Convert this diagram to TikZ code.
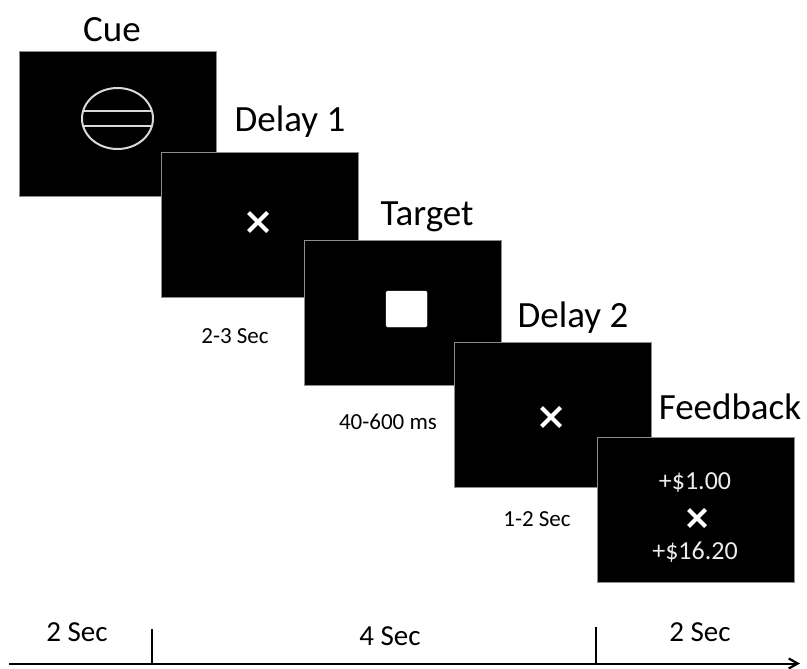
\documentclass[tikz,border=0pt]{standalone}
\usepackage{fontspec}
\setmainfont{Carlito}
\usetikzlibrary{arrows.meta}
\tikzset{
  screen/.style={draw=black!45, fill=black, line width=0.8pt, minimum width=197pt, minimum height=145pt, anchor=north west, inner sep=0pt},
  phase/.style={inner sep=0pt, font=\fontsize{37}{40}\selectfont},
  dur/.style={inner sep=0pt, font=\fontsize{23}{26}\selectfont},
  span/.style={inner sep=0pt, font=\fontsize{29}{32}\selectfont},
  prize/.style={inner sep=0pt, text=white!92!black, font=\fontsize{26}{29}\selectfont},
  fixmark/.style={white, line width=4pt},
  cueline/.style={white!85!black, line width=2pt},
}
\begin{document}
\begin{tikzpicture}[x=1pt,y=1pt,yscale=-1,xscale=1]
	\useasboundingbox (0,0) rectangle (807,669);
	% screens
	\node[screen] (cue) at (19,51) {};
	\draw [cueline] (117.5,118.5) ellipse [x radius=35.5, y radius=30.5];
	\draw [cueline] (83.3,111.5) -- (151.7,111.5) ;
	\draw [cueline] (83.6,126.5) -- (151.4,126.5) ;
	\node[screen] (delay1) at (161,152) {};
	\draw [fixmark] (248.5,212.5) -- (267.5,231.5) (248.5,231.5) -- (267.5,212.5) ;
	\node[screen] (target) at (304,240) {};
	\draw [white, fill=white, rounded corners=1.5pt] (386,291) rectangle (427,327) ;
	\node[screen] (delay2) at (454,342) {};
	\draw [fixmark] (541.5,407.5) -- (560.5,426.5) (541.5,426.5) -- (560.5,407.5) ;
	\node[screen] (feedback) at (597,437) {};
	\node[prize] (gain) at (695,483) {+\$1.00};
	\draw [fixmark] (688.5,509.5) -- (705.5,526.5) (688.5,526.5) -- (705.5,509.5) ;
	\node[prize] (total) at (695,552) {+\$16.20};
	% titles
	\node[phase] (cuelbl) at (112,30) {Cue};
	\node[phase] (d1lbl) at (290,122) {Delay 1};
	\node[phase] (tglbl) at (427,217) {Target};
	\node[phase] (d2lbl) at (573,318) {Delay 2};
	\node[phase] (fblbl) at (730,407) {Feedback};
	% durations
	\node[dur] (d1dur) at (235,336) {2-3 Sec};
	\node[dur] (tgdur) at (388,422) {40-600 ms};
	\node[dur] (d2dur) at (537,519) {1-2 Sec};
	% time line
	\coordinate (t0) at (9,663.5);
	\coordinate (t1) at (152,663.5);
	\coordinate (t1top) at (152,629);
	\coordinate (t2) at (596,663.5);
	\coordinate (t2top) at (596,627);
	\coordinate (tend) at (800,663.5);
	\draw [line width=2pt, -{Straight Barb[length=9pt, width=10pt, line width=2.2pt]}] (t0) -- (tend) ;
	\draw [line width=2pt] (t1) -- (t1top) ;
	\draw [line width=2pt] (t2) -- (t2top) ;
	\node[span] (s1) at (77,632) {2 Sec};
	\node[span] (s2) at (390,636) {4 Sec};
	\node[span] (s3) at (700,632) {2 Sec};
\end{tikzpicture}
\end{document}
